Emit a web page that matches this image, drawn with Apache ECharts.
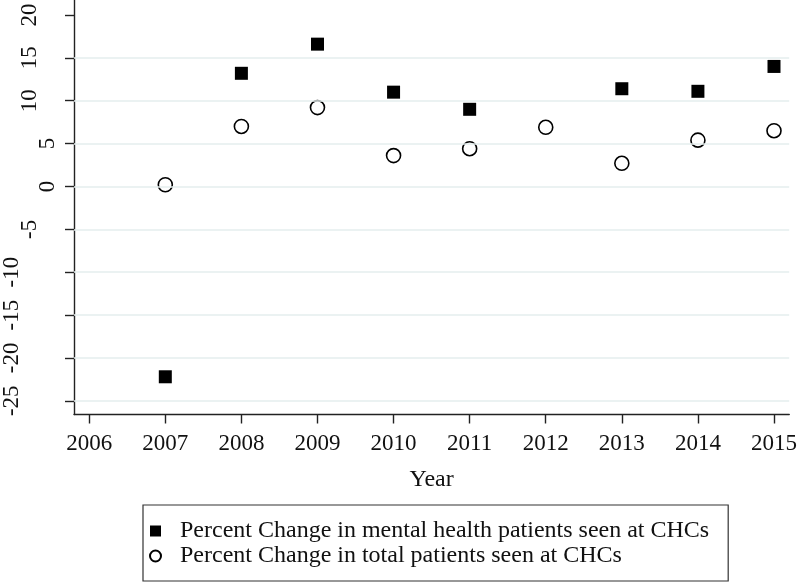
<!DOCTYPE html>
<html>
<head>
<meta charset="utf-8">
<script src="https://cdn.jsdelivr.net/npm/echarts@6/dist/echarts.min.js"></script>
<style>html,body{margin:0;padding:0;background:#fff}#c{width:800px;height:585px}</style>
</head>
<body>
<div id="c"></div>
<script>
const years = [2007, 2008, 2009, 2010, 2011, 2012, 2013, 2014, 2015];
const mentalHealth = [-22.2, 13.2, 16.6, 11.0, 9.0, null, 11.4, 11.1, 14.0];
const totalPatients = [0.2, 7.0, 9.2, 3.6, 4.4, 6.9, 2.7, 5.4, 6.5];
const yTicks = [-25, -20, -15, -10, -5, 0, 5, 10, 15, 20];
const yGridLines = [-25, -20, -15, -10, -5, 0, 5, 10, 15];
const xTicks = [2006, 2007, 2008, 2009, 2010, 2011, 2012, 2013, 2014, 2015];
const seriesNames = ['Percent Change in mental health patients seen at CHCs', 'Percent Change in total patients seen at CHCs'];

const font = '"Liberation Serif", "Times New Roman", serif';
const chart = echarts.init(document.getElementById('c'), null, {renderer: 'canvas'});
const pair = (ys) => years.map((y, i) => ys[i] == null ? null : [y, ys[i]]).filter(d => d);

chart.setOption({
  animation: false,
  backgroundColor: '#fff',
  grid: {left: 74, right: 7, top: 0, bottom: 170.5, containLabel: false},
  xAxis: {
    type: 'value', min: 2005.80, max: 2015.20,
    name: 'Year', nameLocation: 'middle', nameGap: 53,
    nameTextStyle: {fontFamily: font, fontSize: 24, color: '#111'},
    axisLine: {show: true, onZero: false, lineStyle: {color: '#222', width: 1.4}},
    axisTick: {show: true, length: 9, customValues: xTicks, lineStyle: {color: '#222', width: 1.4}},
    axisLabel: {customValues: xTicks, margin: 18, fontFamily: font, fontSize: 23, color: '#111', formatter: v => String(v)},
    splitLine: {show: false}
  },
  yAxis: {
    type: 'value', min: -26.6, max: 21.75,
    axisLine: {show: true, onZero: false, lineStyle: {color: '#222', width: 1.4}},
    axisTick: {show: true, length: 9, customValues: yTicks, lineStyle: {color: '#222', width: 1.4}},
    axisLabel: {
      customValues: yTicks, rotate: 90, margin: 15,
      fontFamily: font, fontSize: 23, color: '#111',
      formatter: v => { const s = String(v); return '{l' + s.length + '|' + s + '}'; },
      rich: {
        l1: {fontFamily: font, fontSize: 23, color: '#111', padding: [0, 0, 0, 0]},
        l2: {fontFamily: font, fontSize: 23, color: '#111', padding: [0, 0, 18, 0]},
        l3: {fontFamily: font, fontSize: 23, color: '#111', padding: [0, 0, 36, 0]}
      }
    },
    splitLine: {show: false}
  },
  legend: {
    orient: 'vertical', left: 143, top: 505,
    borderColor: '#333', borderWidth: 1.2,
    padding: [14, 19, 13, 6],
    itemWidth: 11, itemHeight: 11, itemGap: 1,
    textStyle: {fontFamily: font, fontSize: 24, lineHeight: 24, color: '#111', padding: [0, 0, 0, 14]},
    data: [
      {name: seriesNames[0], icon: 'rect'},
      {name: seriesNames[1], icon: 'circle'}
    ]
  },
  series: [
    {
      name: seriesNames[0], type: 'scatter', symbol: 'rect', symbolSize: 13,
      itemStyle: {color: '#000', opacity: 1},
      data: pair(mentalHealth),
      markLine: {
        silent: true, symbol: 'none', label: {show: false},
        lineStyle: {color: '#e4eeee', width: 1.5, type: 'solid'},
        data: yGridLines.map(v => ({yAxis: v}))
      },
      z: 3
    },
    {
      name: seriesNames[1], type: 'scatter', symbol: 'circle', symbolSize: 14,
      itemStyle: {color: '#fff', borderColor: '#000', borderWidth: 1.6, opacity: 1},
      data: pair(totalPatients),
      z: 3
    }
  ]
});
</script>
</body>
</html>
